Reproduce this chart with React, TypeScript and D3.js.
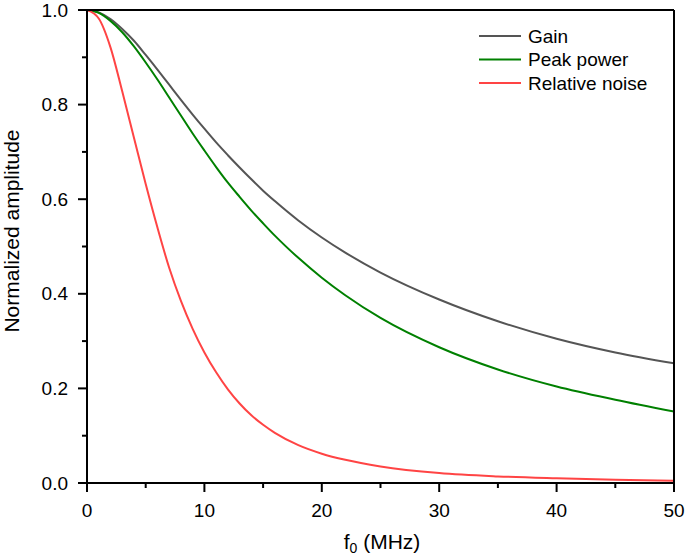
import React from "react";
import * as d3 from "d3";

const freqs = [0, 1, 2, 3, 4, 5, 6, 7, 8, 9, 10, 11, 12, 13, 14, 15, 16, 18, 20, 22, 25, 30, 35, 40, 45, 50];
const gain = [1, 0.995, 0.981, 0.96, 0.935, 0.905, 0.874, 0.842, 0.81, 0.779, 0.749, 0.72, 0.693, 0.667, 0.642, 0.618, 0.596, 0.555, 0.519, 0.487, 0.445, 0.388, 0.342, 0.305, 0.276, 0.253];
const peakPower = [1, 0.994, 0.977, 0.953, 0.923, 0.889, 0.853, 0.815, 0.777, 0.739, 0.703, 0.668, 0.635, 0.605, 0.576, 0.549, 0.523, 0.476, 0.434, 0.397, 0.349, 0.287, 0.24, 0.204, 0.176, 0.151];
const relNoise = [1, 0.982, 0.921, 0.828, 0.73, 0.632, 0.54, 0.455, 0.385, 0.326, 0.276, 0.234, 0.198, 0.168, 0.143, 0.123, 0.106, 0.08, 0.062, 0.049, 0.035, 0.021, 0.014, 0.01, 0.007, 0.005];

const seriesNames = ["Gain", "Peak power", "Relative noise"];
const seriesColors = ["#555555", "#008000", "#ff4444"];
const xTicks = [0, 10, 20, 30, 40, 50];
const xMinor = [5, 15, 25, 35, 45];
const yTicks = [0, 0.2, 0.4, 0.6, 0.8, 1.0];
const yMinor = [0.1, 0.3, 0.5, 0.7, 0.9];

export default function App() {
  const W = 685, H = 558;
  const left = 87, right = 674, top = 10, bottom = 483;
  const x = d3.scaleLinear().domain([0, 50]).range([left, right]);
  const y = d3.scaleLinear().domain([0, 1]).range([bottom, top]);
  const line = d3.line<number>().x((_, i) => x(freqs[i])).y((d) => y(d)).curve(d3.curveMonotoneX);
  const allSeries = [gain, peakPower, relNoise];
  const font = "'Liberation Sans', Arial, sans-serif";
  return (
    <svg width={W} height={H} style={{ position: "absolute", left: 0, top: 0, background: "#fff" }} fontFamily={font}>
      <defs>
        <clipPath id="plotclip">
          <rect x={left} y={top - 2} width={right - left} height={bottom - top + 4} />
        </clipPath>
      </defs>
      <g clipPath="url(#plotclip)">
        {allSeries.map((s, i) => (
          <path key={i} d={line(s) || ""} fill="none" stroke={seriesColors[i]} strokeWidth={2} />
        ))}
      </g>
      {/* frame */}
      <line x1={left} x2={right} y1={top} y2={top} stroke="#000" strokeWidth={2} />
      <line x1={right} x2={right} y1={top} y2={bottom} stroke="#000" strokeWidth={2} />
      <line x1={left} x2={left} y1={top - 1} y2={bottom + 1} stroke="#000" strokeWidth={2} />
      <line x1={left - 1} x2={right + 1} y1={bottom} y2={bottom} stroke="#000" strokeWidth={2} />
      {/* x ticks */}
      {xTicks.map((t) => (
        <g key={"x" + t}>
          <line x1={x(t)} x2={x(t)} y1={bottom} y2={bottom + 9} stroke="#000" strokeWidth={2} />
          <text x={x(t)} y={517} textAnchor="middle" fontSize={19} fill="#000">{t}</text>
        </g>
      ))}
      {xMinor.map((t) => (
        <line key={"xm" + t} x1={x(t)} x2={x(t)} y1={bottom} y2={bottom + 5} stroke="#000" strokeWidth={2} />
      ))}
      {/* y ticks */}
      {yTicks.map((t) => (
        <g key={"y" + t}>
          <line x1={left - 9} x2={left} y1={y(t)} y2={y(t)} stroke="#000" strokeWidth={2} />
          <text x={68} y={y(t) + 6.5} textAnchor="end" fontSize={19} fill="#000">{t.toFixed(1)}</text>
        </g>
      ))}
      {yMinor.map((t) => (
        <line key={"ym" + t} x1={left - 5} x2={left} y1={y(t)} y2={y(t)} stroke="#000" strokeWidth={2} />
      ))}
      {/* axis titles */}
      <text transform={`translate(19, 231) rotate(-90)`} textAnchor="middle" fontSize={21} fill="#000">
        Normalized amplitude
      </text>
      <text x={382} y={549} textAnchor="middle" fontSize={21} fill="#000">
        f<tspan fontSize={14} dy={4}>0</tspan><tspan dy={-4}> (MHz)</tspan>
      </text>
      {/* legend */}
      {seriesNames.map((n, i) => (
        <g key={n}>
          <line x1={479} x2={521} y1={36 + i * 23.5} y2={36 + i * 23.5} stroke={seriesColors[i]} strokeWidth={2} />
          <text x={528} y={36 + i * 23.5 + 6.5} fontSize={19} fill="#000">{n}</text>
        </g>
      ))}
    </svg>
  );
}
